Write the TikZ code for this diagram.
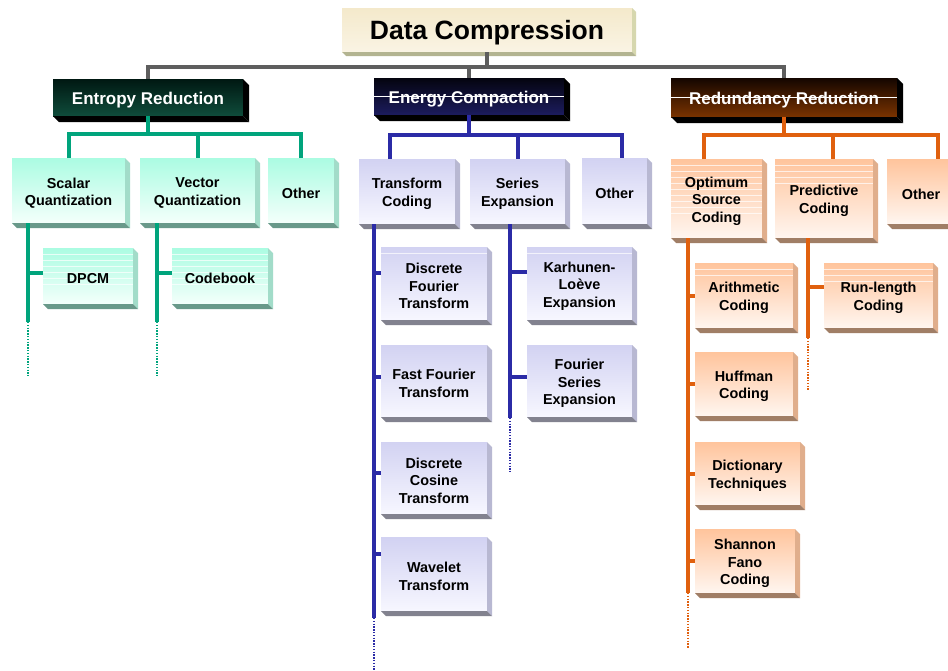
\documentclass[tikz,border=0pt]{standalone}
\usepackage{fontspec}
\setmainfont{Liberation Sans}

% face colours
\definecolor{ttlTop}{HTML}{F4E9CB}
\definecolor{ttlBot}{HTML}{FAF4E4}
\definecolor{ttlSide}{HTML}{D6D7AE}
\definecolor{ttlBase}{HTML}{B3B491}
\definecolor{erTop}{HTML}{001812}
\definecolor{erBot}{HTML}{0F4C3B}
\definecolor{ecTop}{HTML}{04040F}
\definecolor{ecBot}{HTML}{1C1C5E}
\definecolor{rrTop}{HTML}{140600}
\definecolor{rrBot}{HTML}{7A3300}
\definecolor{grnTop}{HTML}{ABFCE2}
\definecolor{grnBot}{HTML}{F4FFFB}
\definecolor{grnSide}{HTML}{A2DCC9}
\definecolor{grnBase}{HTML}{69998A}
\definecolor{grnLine}{HTML}{00A47C}
\definecolor{bluTop}{HTML}{D2D2F2}
\definecolor{bluBot}{HTML}{F7F7FF}
\definecolor{bluSide}{HTML}{B8B8D2}
\definecolor{bluBase}{HTML}{82828F}
\definecolor{bluLine}{HTML}{2B2BA6}
\definecolor{orgTop}{HTML}{FFC49C}
\definecolor{orgBot}{HTML}{FFF6F0}
\definecolor{orgSide}{HTML}{E0AE8C}
\definecolor{orgBase}{HTML}{A07E66}
\definecolor{orgLine}{HTML}{E0600E}
\definecolor{busGray}{HTML}{5E5E5E}

\newcommand\cellfont{\fontsize{14.4}{17.6}\selectfont\bfseries}
\newcommand\hdrfont{\fontsize{17}{20}\selectfont\bfseries}
\newcommand\ttlfont{\fontsize{26.5}{30}\selectfont\bfseries}

\tikzset{
  face/.style={rectangle, inner sep=0pt, outer sep=0pt},
  lbl/.style={rectangle, inner sep=0pt, outer sep=0pt, align=center},
  % title
  ttl/.style={face, top color=ttlTop, bottom color=ttlBot},
  ttltxt/.style={lbl, font=\ttlfont, text=black},
  ttlside/.style={fill=ttlSide}, ttlbase/.style={fill=ttlBase},
  % branch headers
  hdrtxt/.style={lbl, font=\hdrfont, text=white},
  erhdr/.style={face, top color=erTop, bottom color=erBot},
  echdr/.style={face, top color=ecTop, bottom color=ecBot},
  rrhdr/.style={face, top color=rrTop, bottom color=rrBot},
  erhdrtxt/.style={hdrtxt}, echdrtxt/.style={hdrtxt}, rrhdrtxt/.style={hdrtxt},
  erhdrside/.style={fill=black}, erhdrbase/.style={fill=black},
  echdrside/.style={fill=black}, echdrbase/.style={fill=black},
  rrhdrside/.style={fill=black}, rrhdrbase/.style={fill=black},
  % method boxes
  celltxt/.style={lbl, font=\cellfont, text=black},
  grncell/.style={face, top color=grnTop, bottom color=grnBot},
  grncelltxt/.style={celltxt},
  grncellside/.style={fill=grnSide}, grncellbase/.style={fill=grnBase},
  blucell/.style={face, top color=bluTop, bottom color=bluBot},
  blucelltxt/.style={celltxt},
  blucellside/.style={fill=bluSide}, blucellbase/.style={fill=bluBase},
  orgcell/.style={face, top color=orgTop, bottom color=orgBot},
  orgcelltxt/.style={celltxt},
  orgcellside/.style={fill=orgSide}, orgcellbase/.style={fill=orgBase},
  % light banding across the upper part of some faces
  bands/.style={path picture={
    \foreach \k in {1,...,#1}{
      \draw[white, line width=0.7pt, opacity=0.7]
        ([yshift={-6*\k}]path picture bounding box.north west) --
        ([yshift={-6*\k}]path picture bounding box.north east);}}},
  midline/.style={path picture={
    \draw[white, line width=0.6pt]
      (path picture bounding box.west) -- (path picture bounding box.east);}},
  % connectors
  link/.style={line width=4pt},
  graylink/.style={link, draw=busGray},
  grnlink/.style={link, draw=grnLine},
  blulink/.style={link, draw=bluLine},
  orglink/.style={link, draw=orgLine},
  trunk/.style={line width=4.8pt},
  trail/.style={line width=1.4pt, dash pattern=on 1.3pt off 1.5pt},
}

% extruded box: [extra] name kind x1 y1 x2 y2 depth text
\newcommand\slab[9][]{%
  \node[#3,#1,minimum width={(#6)-(#4)},minimum height={(#7)-(#5)}]
    (#2) at ({((#4)+(#6))/2},{((#5)+(#7))/2}) {};
  \fill[#3side] (#2.north east) -- ++(#8,#8)
    -- ([shift={(#8,#8)}]#2.south east) -- (#2.south east) -- cycle;
  \fill[#3base] (#2.south west) -- (#2.south east)
    -- ([shift={(#8,#8)}]#2.south east) -- ([shift={(#8,#8)}]#2.south west) -- cycle;
  \node[#3txt] (#2-t) at ([yshift=-2.5pt]#2.center) {#9};
}

\begin{document}
\begin{tikzpicture}[x=1pt, y=-1pt]
\useasboundingbox (0,0) rectangle (948,670);
\fill[white] (0,0) rectangle (948,670);
\clip (0,0) rectangle (948,670);

% ---- boxes ----
\slab{tt}{ttl}{342}{8}{632}{52}{4}{Data Compression}
\slab{er}{erhdr}{53}{79}{243}{116}{6}{Entropy Reduction}
\slab[midline]{ec}{echdr}{374}{78}{564}{115}{6}{Energy Compaction}
\slab[midline]{rr}{rrhdr}{671}{78}{897}{117}{6}{Redundancy Reduction}

\slab{sq}{grncell}{12}{158}{125}{223}{5}{Scalar\\Quantization}
\slab{vq}{grncell}{140}{158}{255}{223}{5}{Vector\\Quantization}
\slab{go}{grncell}{268}{158}{334}{223}{5}{Other}
\slab[bands=6]{dp}{grncell}{43}{248}{133}{304}{5}{DPCM}
\slab[bands=6]{cb}{grncell}{172}{248}{268}{304}{5}{Codebook}

\slab{tc}{blucell}{359}{159}{455}{224}{5}{Transform\\Coding}
\slab{se}{blucell}{470}{159}{565}{224}{5}{Series\\Expansion}
\slab{bo}{blucell}{582}{158}{647}{224}{5}{Other}
\slab[bands=1]{dft}{blucell}{381}{247}{487}{320}{5}{Discrete\\Fourier\\Transform}
\slab{fft}{blucell}{381}{345}{487}{417}{5}{Fast Fourier\\Transform}
\slab{dct}{blucell}{381}{442}{487}{514}{5}{Discrete\\Cosine\\Transform}
\slab{wt}{blucell}{381}{537}{487}{611}{5}{Wavelet\\Transform}
\slab[bands=1]{kl}{blucell}{527}{247}{632}{320}{5}{Karhunen-\\Loève\\Expansion}
\slab{fs}{blucell}{527}{345}{632}{417}{5}{Fourier\\Series\\Expansion}

\slab[bands=9]{os}{orgcell}{671}{159}{762}{238}{5}{Optimum\\Source\\Coding}
\slab[bands=4]{pc}{orgcell}{775}{159}{873}{238}{5}{Predictive\\Coding}
\slab{oo}{orgcell}{887}{159}{955}{224}{5}{Other}
\slab[bands=2]{ac}{orgcell}{695}{263}{793}{328}{5}{Arithmetic\\Coding}
\slab{hc}{orgcell}{695}{352}{793}{416}{5}{Huffman\\Coding}
\slab{dt}{orgcell}{695}{442}{800}{505}{5}{Dictionary\\Techniques}
\slab{sf}{orgcell}{695}{529}{795}{593}{5}{Shannon\\Fano\\Coding}
\slab[bands=3]{rl}{orgcell}{824}{263}{933}{328}{5}{Run-length\\Coding}

% ---- top level bus ----
\coordinate (topbus) at (0,67);
\draw[graylink] (tt.south) -- (tt.south |- topbus);
\draw[graylink] (er.north) -- (er.north |- topbus) -- (rr.north |- topbus) -- (rr.north);
\draw[graylink] (ec.north |- topbus) -- (ec.north);

% ---- entropy reduction ----
\coordinate (gbus) at (0,134);
\draw[grnlink] (er.south) -- (er.south |- gbus);
\draw[grnlink] (sq.north) -- (sq.north |- gbus) -- (go.north |- gbus) -- (go.north);
\draw[grnlink] (vq.north |- gbus) -- (vq.north);
\coordinate (sqA) at ([xshift=16pt]sq.south west);
\coordinate (sqB) at ([shift={(16,99)}]sq.south west);
\draw[grnlink, trunk] (sqA) -- (sqB);
\draw[trail, grnLine] (sqB) -- ++(0,54);
\coordinate (vqA) at ([xshift=17pt]vq.south west);
\coordinate (vqB) at ([shift={(17,99)}]vq.south west);
\draw[grnlink, trunk] (vqA) -- (vqB);
\draw[trail, grnLine] (vqB) -- ++(0,54);
\draw[grnlink] ([shift={(0,-3)}]dp.west) -- ++(-15,0);
\draw[grnlink] ([shift={(0,-3)}]cb.west) -- ++(-15,0);

% ---- energy compaction ----
\coordinate (bbus) at (0,135);
\coordinate (tcIn) at ([xshift=31pt]tc.north west);
\coordinate (seIn) at ([xshift=48pt]se.north west);
\coordinate (boIn) at ([xshift=40pt]bo.north west);
\draw[blulink] (ec.south) -- (ec.south |- bbus);
\draw[blulink] (tcIn) -- (tcIn |- bbus) -- (boIn |- bbus) -- (boIn);
\draw[blulink] (seIn |- bbus) -- (seIn);
\coordinate (tcA) at ([xshift=15pt]tc.south west);
\coordinate (tcB) at ([shift={(15,394)}]tc.south west);
\draw[blulink, trunk] (tcA) -- (tcB);
\draw[trail, bluLine] (tcB) -- ++(0,52);
\coordinate (seA) at ([xshift=40pt]se.south west);
\coordinate (seB) at ([shift={(40,194)}]se.south west);
\draw[blulink, trunk] (seA) -- (seB);
\draw[trail, bluLine] (seB) -- ++(0,54);
\draw[blulink] ([shift={(0,-10.5)}]dft.west) -- ++(-7,0);
\draw[blulink] ([shift={(0,-4)}]fft.west) -- ++(-7,0);
\draw[blulink] ([shift={(0,-5)}]dct.west) -- ++(-7,0);
\draw[blulink] ([shift={(0,-20)}]wt.west) -- ++(-7,0);
\draw[blulink] ([shift={(0,-11.5)}]kl.west) -- ++(-17,0);
\draw[blulink] ([shift={(0,-4)}]fs.west) -- ++(-17,0);

% ---- redundancy reduction ----
\coordinate (obus) at (0,135);
\coordinate (osIn) at ([xshift=33pt]os.north west);
\coordinate (pcIn) at ([xshift=58pt]pc.north west);
\coordinate (ooIn) at ([xshift=51pt]oo.north west);
\draw[orglink] (rr.south) -- (rr.south |- obus);
\draw[orglink] (osIn) -- (osIn |- obus) -- (ooIn |- obus) -- (ooIn);
\draw[orglink] (pcIn |- obus) -- (pcIn);
\coordinate (osA) at ([xshift=17pt]os.south west);
\coordinate (osB) at ([shift={(17,355)}]os.south west);
\draw[orglink, trunk] (osA) -- (osB);
\draw[trail, orgLine] (osB) -- ++(0,55);
\coordinate (pcA) at ([xshift=33pt]pc.south west);
\coordinate (pcB) at ([shift={(33,100)}]pc.south west);
\draw[orglink, trunk] (pcA) -- (pcB);
\draw[trail, orgLine] (pcB) -- ++(0,52);
\draw[orglink] (ac.west) -- ++(-7,0);
\draw[orglink] (hc.west) -- ++(-7,0);
\draw[orglink] (dt.west) -- ++(-7,0);
\draw[orglink] (sf.west) -- ++(-7,0);
\draw[orglink] ([shift={(0,-8.5)}]rl.west) -- ++(-16,0);
\end{tikzpicture}
\end{document}
